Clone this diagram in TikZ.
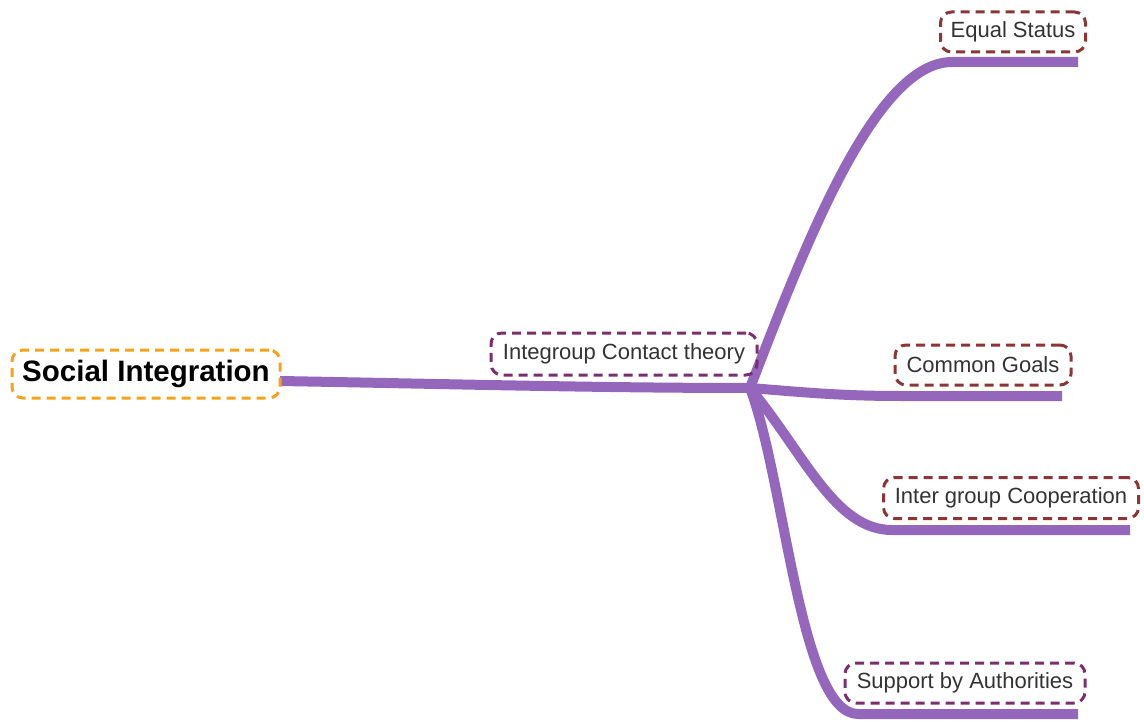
\documentclass[tikz,border=0pt]{standalone}
\usepackage{fontspec}
\setmainfont{Liberation Sans}
\definecolor{branch}{HTML}{9467BD}
\definecolor{orangeb}{HTML}{F5A31A}
\definecolor{purpb}{HTML}{7A2E6E}
\definecolor{redb}{HTML}{8B3535}
\definecolor{txt}{HTML}{333333}
\tikzset{
  box/.style={draw, line width=3pt, dash pattern=on 9pt off 6pt, rounded corners=11pt,
    inner sep=0pt, text=txt, font=\fontsize{22}{25}\selectfont},
  rootbox/.style={box, draw=orangeb, text=black, font=\fontsize{29.5}{33}\selectfont\bfseries},
  midbox/.style={box, draw=purpb},
  leafbox/.style={box, draw=redb},
  leafpbox/.style={box, draw=purpb},
  br/.style={draw=branch, line width=10pt}
}
\begin{document}
\begin{tikzpicture}[x=1pt,y=-1pt]
\useasboundingbox (0,0) rectangle (1144,722);
% coordinates
\coordinate (rootR) at (280,381);
\coordinate (hub) at (750,388);
\coordinate (esA) at (952,62);  \coordinate (esB) at (1078,62);
\coordinate (cgA) at (900,396); \coordinate (cgB) at (1062,396);
\coordinate (icA) at (892,530); \coordinate (icB) at (1130,530);
\coordinate (saA) at (858,714); \coordinate (saB) at (1078,714);
% branches
\draw[br] (rootR) .. controls (450,384) and (600,388) .. (hub);
\draw[br] (hub) .. controls (805,245) and (875,62) .. (esA) -- (esB);
\draw[br] (hub) .. controls (800,392) and (840,396) .. (cgA) -- (cgB);
\draw[br] (hub) .. controls (805,455) and (835,530) .. (icA) -- (icB);
\draw[br] (hub) .. controls (785,480) and (800,714) .. (saA) -- (saB);
% nodes
\node[rootbox, minimum width=268pt, minimum height=48pt] (root) at (146,374) {Social Integration};
\node[midbox, minimum width=266pt, minimum height=42pt] (igc) at (624,354) {Integroup Contact theory};
\node[leafbox, minimum width=145pt, minimum height=40pt] (es) at (1013,32) {Equal Status};
\node[leafbox, minimum width=176pt, minimum height=40pt] (cg) at (983,365) {Common Goals};
\node[leafbox, minimum width=255pt, minimum height=41pt] (ic) at (1011,498) {Inter group Cooperation};
\node[leafpbox, minimum width=240pt, minimum height=40pt] (sa) at (965,683) {Support by Authorities};
\end{tikzpicture}
\end{document}
